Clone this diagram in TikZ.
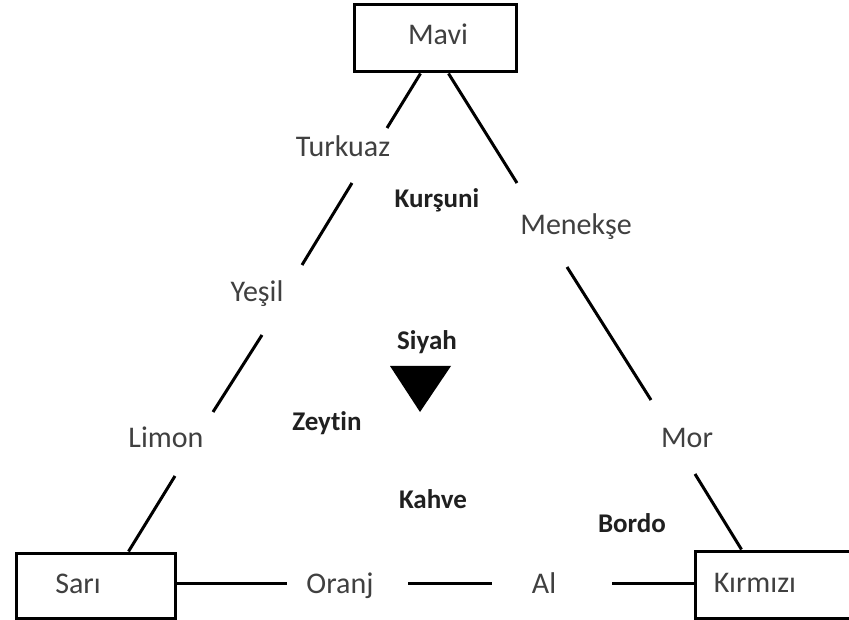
\documentclass[tikz,border=0pt]{standalone}
\usepackage{fontspec}
\setmainfont[RawFeature=-liga]{Carlito}
\definecolor{txtgray}{HTML}{404040}
\definecolor{txtdark}{HTML}{202020}
\tikzset{
  colorbox/.style={draw=black, line width=3pt, inner sep=0pt},
  lbl/.style={anchor=base, inner sep=0pt, text=txtgray, font=\fontsize{30}{36}\selectfont},
  blbl/.style={anchor=base, inner sep=0pt, text=txtdark, font=\fontsize{27}{32}\selectfont\bfseries},
  link/.style={line width=3pt, black},
}
\begin{document}
\begin{tikzpicture}[x=1pt,y=-1pt]
\useasboundingbox (0,0) rectangle (849,620);
\clip (0,0) rectangle (849,620);
\fill[white] (0,0) rectangle (849,620);
% boxes
\node[colorbox, minimum width=162pt, minimum height=67pt] (mavi) at (435,38.5) {};
\node[colorbox, minimum width=159pt, minimum height=65pt] (sari) at (95.5,585.5) {};
\node[colorbox, minimum width=175pt, minimum height=67pt] (kirmizi) at (782.5,584.5) {};
% box texts
\node[lbl] (mavitxt) at (438,45) {Mavi};
\node[lbl] (saritxt) at (78,593) {Sarı};
\node[lbl] (kirmizitxt) at (755,592) {Kırmızı};
% edge labels
\node[lbl] (turkuaz) at (343,157) {Turkuaz};
\node[lbl] (yesil) at (257,302) {Yeşil};
\node[lbl] (limon) at (166,447) {Limon};
\node[lbl] (menekse) at (576,235) {Menekşe};
\node[lbl] (mor) at (687,447) {Mor};
\node[lbl] (oranj) at (340,593) {Oranj};
\node[lbl] (al) at (544,593) {Al};
% inner labels
\node[blbl] (kursuni) at (437,208) {Kurşuni};
\node[blbl] (siyah) at (427,349) {Siyah};
\node[blbl] (zeytin) at (327,430) {Zeytin};
\node[blbl] (kahve) at (433,508) {Kahve};
\node[blbl] (bordo) at (632,532) {Bordo};
% triangle
\fill[black] (390,366) coordinate (t1) -- (451,366) coordinate (t2) -- (420,412) coordinate (t3) -- cycle;
% line end coordinates
\coordinate (l1e) at (387,128);
\coordinate (l2a) at (352,183);
\coordinate (l2e) at (302,265);
\coordinate (l3a) at (262,335);
\coordinate (l3e) at (213,412);
\coordinate (l4a) at (175,476);
\coordinate (r1e) at (517,183);
\coordinate (r2a) at (567,267);
\coordinate (r2e) at (651,400);
\coordinate (r3a) at (695,474);
\coordinate (b1e) at (287,583);
\coordinate (b2a) at (408,583);
\coordinate (b2e) at (492,583);
\coordinate (b3a) at (612,583);
% connectors
\draw[link] ([xshift=68pt]mavi.south west) -- (l1e);
\draw[link] (l2a) -- (l2e);
\draw[link] (l3a) -- (l3e);
\draw[link] (l4a) -- ([xshift=114pt]sari.north west);
\draw[link] ([xshift=96pt]mavi.south west) -- (r1e);
\draw[link] (r2a) -- (r2e);
\draw[link] (r3a) -- ([xshift=48pt]kirmizi.north west);
\draw[link] ([yshift=2.5pt]sari.east) -- (b1e);
\draw[link] (b2a) -- (b2e);
\draw[link] (b3a) -- ([yshift=1.5pt]kirmizi.west);
\end{tikzpicture}
\end{document}
